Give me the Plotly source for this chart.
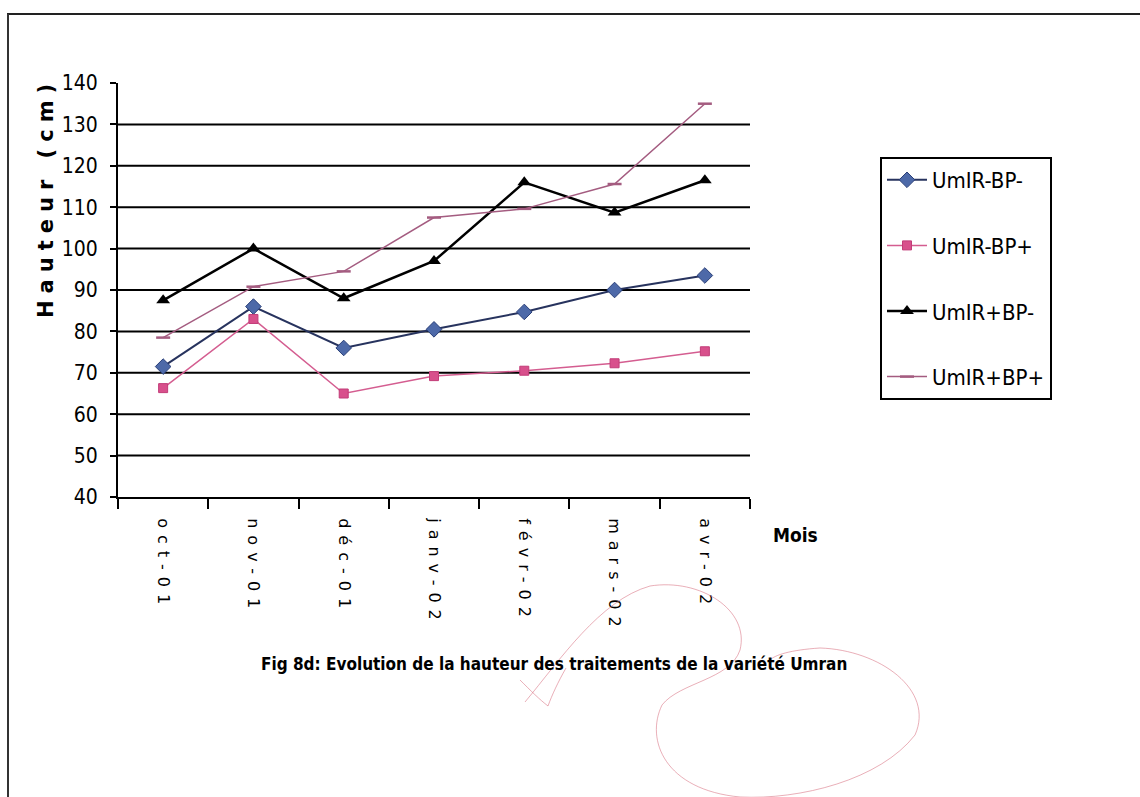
import plotly.graph_objects as go

# Months of the survey
mois = ["oct-01", "nov-01", "déc-01", "janv-02", "févr-02", "mars-02", "avr-02"]

# Plant height (cm) for each treatment
umir_bp_moins = [71.5, 86, 76, 80.5, 84.7, 90, 93.5]
umir_bp_plus = [66.3, 83, 65, 69.2, 70.5, 72.3, 75.2]
umir_plus_bp_moins = [87.5, 100, 88, 97, 116, 108.7, 116.5]
umir_plus_bp_plus = [78.5, 90.8, 94.5, 107.5, 109.6, 115.6, 135]

y_ticks = list(range(40, 150, 10))
grid_values = list(range(50, 140, 10))

# plot-area edges in pixels, used to place decorations
PL, PR, PT, PB = 118, 750, 83, 497
W, H = 1140, 797


def px(x):
    return (x - PL) / (PR - PL)


def py(y):
    return (PB - y) / (PB - PT)


NARROW = "DejaVu Sans Condensed, Liberation Sans Narrow, sans-serif"

fig = go.Figure()

series = [
    ("UmIR-BP-", umir_bp_moins, dict(color="#27335e", width=2),
     dict(symbol="diamond", size=12, color="#4d69a8", line=dict(color="#2a3f78", width=1))),
    ("UmIR-BP+", umir_bp_plus, dict(color="#d45d90", width=1.5),
     dict(symbol="square", size=9, color="#d8508c", line=dict(color="#c23c78", width=1))),
    ("UmIR+BP-", umir_plus_bp_moins, dict(color="#000000", width=2.5),
     dict(symbol="triangle-up", size=12, color="#000000")),
    ("UmIR+BP+", umir_plus_bp_plus, dict(color="#a45c80", width=1.5),
     dict(symbol="line-ew", size=10, color="#a45c80", line=dict(color="#a45c80", width=2.5))),
]

for i, (name, vals, line, marker) in enumerate(series):
    fig.add_trace(go.Scatter(
        x=mois, y=vals, name=name, mode="lines+markers",
        line=line, marker=marker, legendgroup=f"g{i}",
    ))

shapes = []
# horizontal gridlines
for g in grid_values:
    shapes.append(dict(type="line", xref="paper", yref="y", x0=0, x1=1, y0=g, y1=g,
                       line=dict(color="#000000", width=2), layer="below"))

# outer frame (top and left edges)
shapes.append(dict(type="line", xref="paper", yref="paper",
                   x0=px(7), x1=px(W), y0=py(14), y1=py(14),
                   line=dict(color="#222222", width=2)))
shapes.append(dict(type="line", xref="paper", yref="paper",
                   x0=px(8), x1=px(8), y0=py(14), y1=py(H),
                   line=dict(color="#333333", width=2)))


def path(points):
    d = "M {:.4f},{:.4f}".format(px(points[0][0]), py(points[0][1]))
    for i in range(1, len(points) - 2, 3):
        (a, b), (c, e), (f, g) = points[i], points[i + 1], points[i + 2]
        d += " C {:.4f},{:.4f} {:.4f},{:.4f} {:.4f},{:.4f}".format(
            px(a), py(b), px(c), py(e), px(f), py(g))
    return d


INK = dict(color="rgba(215,110,125,0.55)", width=1)
# hand-drawn red ink loop over the lower part
ink = [
    (525, 702),
    (560, 660), (600, 600), (650, 586),
    (700, 578), (750, 610), (740, 650),
    (730, 680), (680, 682), (662, 705),
    (645, 740), (665, 790), (740, 797),
    (800, 800), (880, 780), (915, 735),
    (935, 690), (880, 650), (820, 648),
    (790, 650), (775, 655), (770, 660),
]
shapes.append(dict(type="path", xref="paper", yref="paper", path=path(ink), line=INK))
shapes.append(dict(type="path", xref="paper", yref="paper",
                   path=path([(520, 680), (530, 690), (540, 700), (548, 706),
                              (552, 695), (558, 682), (566, 668)]),
                   line=INK))

annotations = [
    dict(text="Hauteur (cm)", x=px(46), y=py(198), xref="paper", yref="paper",
         xanchor="center", yanchor="middle",
         textangle=-90, showarrow=False,
         font=dict(family="DejaVu Sans, sans-serif", size=21, color="#000000", weight="bold")),
    dict(text="Mois", x=px(795), y=py(535), xref="paper", yref="paper", showarrow=False,
         xanchor="center", yanchor="middle",
         font=dict(family=NARROW, size=19, color="#000000", weight="bold")),
    dict(text="Fig 8d: Evolution de la hauteur des traitements de la variété Umran",
         x=px(554), y=py(664), xref="paper", yref="paper", showarrow=False,
         xanchor="center", yanchor="middle",
         font=dict(family=NARROW, size=17, color="#000000", weight="bold")),
]

fig.update_layout(
    width=W, height=H,
    margin=dict(l=PL, r=W - PR, t=PT, b=H - PB, pad=0),
    paper_bgcolor="#ffffff", plot_bgcolor="#ffffff",
    shapes=shapes, annotations=annotations,
    legend=dict(
        x=px(880), y=py(157), xanchor="left", yanchor="top",
        bordercolor="#000000", borderwidth=2, bgcolor="#ffffff",
        font=dict(family=NARROW, size=22, color="#000000"),
        tracegroupgap=34, itemwidth=40,
    ),
    xaxis=dict(
        type="category", range=[-0.5, 6.5], showgrid=False,
        showline=True, linecolor="#000000", linewidth=2,
        ticks="outside", tickson="boundaries", ticklen=10, tickwidth=2, tickcolor="#000000",
        tickangle=90, ticklabelstandoff=16,
        tickfont=dict(family="DejaVu Sans, sans-serif", size=16, color="#000000"),
    ),
    yaxis=dict(
        range=[40, 140], tickvals=y_ticks, showgrid=False, zeroline=False,
        showline=True, linecolor="#000000", linewidth=2,
        ticks="outside", ticklen=6, tickwidth=2, tickcolor="#000000",
        ticklabelstandoff=8,
        tickfont=dict(family=NARROW, size=21, color="#000000"),
    ),
)

spread = """
var gd = document.getElementById('{plot_id}');
function spreadText() {
  gd.querySelectorAll('.xtick text').forEach(function (t) { t.style.letterSpacing = '7px'; });
  gd.querySelectorAll('.annotation-text').forEach(function (t) {
    if (t.textContent === 'Hauteur (cm)') { t.style.letterSpacing = '7px'; }
  });
}
spreadText();
gd.on('plotly_afterplot', spreadText);
"""

fig.write_html("out.html", post_script=spread)
